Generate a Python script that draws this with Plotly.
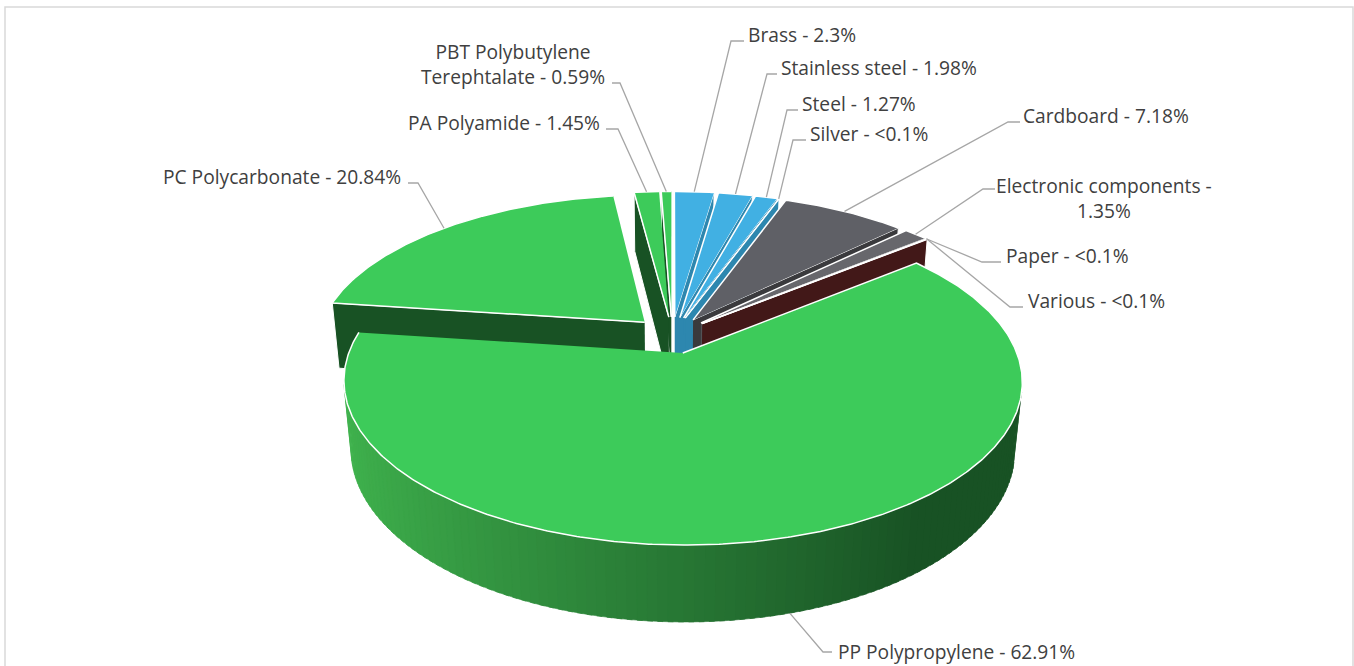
import numpy as np
import plotly.graph_objects as go

# ---------------- data ----------------
materials = ["Brass", "Stainless steel", "Steel", "Silver", "Cardboard",
             "Electronic components", "Paper", "Various", "PP Polypropylene",
             "PC Polycarbonate", "PA Polyamide", "PBT Polybutylene Terephtalate"]
shares = [2.3, 1.98, 1.27, 0.04, 7.18, 1.35, 0.04, 0.05, 62.91, 20.84, 1.45, 0.59]
share_labels = ["2.3%", "1.98%", "1.27%", "<0.1%", "7.18%", "1.35%", "<0.1%",
                "<0.1%", "62.91%", "20.84%", "1.45%", "0.59%"]

# ---------------- styles ----------------
top_colors = ["#41B0E3", "#41B0E3", "#41B0E3", "#41B0E3", "#5F6066", "#67676C",
              "#8A8A8E", "#6A2020", "#3DCB5A", "#3DCB5A", "#3DCB5A", "#3DCB5A"]
wall_colors = ["#2D87AF", "#2D87AF", "#2D87AF", "#2D87AF", "#3A3A3D", "#525256",
               "#5E5E62", "#421818", None, "#185224", "#185224", "#185224"]

# label placement: text x, text y, anchor, leader bend x, bend y, leader end x
label_pos = [
    (747, 34.5, "left", 731, 41, 744),
    (780, 67.5, "left", 767, 74, 777),
    (801, 103.5, "left", 787, 110, 798),
    (809, 133.5, "left", 793, 140, 806),
    (1022, 115.5, "left", 1008, 122, 1020),
    (1104, 198, "center", 983, 189, 995),
    (1005, 255.5, "left", 982, 262, 1001),
    (1027, 300.5, "left", 1010, 307, 1023),
    (837, 651.5, "left", 823, 652, 832),
    (402, 176.5, "right", 418, 183, 408),
    (601, 122.5, "right", 618, 129, 606),
    (513, 63.5, "center", 620, 83, 612),
]

# 3D pie view parameters
CX, CY, S = 672.0, 335.0, 327.5
SIN_E = 0.466
COS_E = float(np.sqrt(1 - SIN_E ** 2))
PERSP = 0.192
DEPTH = 0.236
EXPLODE = 0.12


def proj(X, Y, Z):
    X = np.asarray(X, float); Y = np.asarray(Y, float); Z = np.asarray(Z, float)
    den = 1 + PERSP * (Y * COS_E - Z * SIN_E)
    return CX + S * X / den, CY - S * (Y * SIN_E + Z * COS_E) / den


def pp_shade(a):
    t = (np.sin(np.radians(a)) + 1) / 2
    u = min(t / 0.8, 1.0)
    light = np.array([64, 180, 78]); dark = np.array([24, 82, 36])
    c = light + (dark - light) * u
    return "rgb(%d,%d,%d)" % tuple(int(round(v)) for v in c)


rad = np.radians
cam = np.array([0.0, -COS_E / PERSP, SIN_E / PERSP])
tot = float(sum(shares))
ang = np.cumsum([0.0] + [v / tot * 360 for v in shares])

wall_items, top_items, anchors = [], [], []
for i in range(len(shares)):
    a0, a1 = ang[i], ang[i + 1]
    am = (a0 + a1) / 2
    ox, oy = EXPLODE * np.sin(rad(am)), EXPLODE * np.cos(rad(am))
    # top face
    arc = np.linspace(a0, a1, max(2, int((a1 - a0) / 0.5) + 2))
    tx = np.r_[ox, ox + np.sin(rad(arc))]
    ty = np.r_[oy, oy + np.cos(rad(arc))]
    px, py = proj(tx, ty, np.zeros_like(tx))
    dtop = np.linalg.norm(cam - np.array([ox + 0.5 * np.sin(rad(am)), oy + 0.5 * np.cos(rad(am)), 0]))
    top_items.append((dtop, px, py, top_colors[i]))
    wc = wall_colors[i] or "#185224"
    # radial walls
    for a, n in ((a0, (-np.cos(rad(a0)), np.sin(rad(a0)))), (a1, (np.cos(rad(a1)), -np.sin(rad(a1))))):
        dx, dy = np.sin(rad(a)), np.cos(rad(a))
        P = np.array([ox + dx / 2, oy + dy / 2, -DEPTH / 2])
        if np.dot(cam - P, np.array([n[0], n[1], 0])) > 0:
            qx, qy = proj([ox, ox + dx, ox + dx, ox], [oy, oy + dy, oy + dy, oy], [0, 0, -DEPTH, -DEPTH])
            wall_items.append((np.linalg.norm(cam - P), qx, qy, wc, "white", 1.0))
    # outer wall (thin overlapping bands)
    step = 1.5
    edges = np.linspace(a0, a1, max(2, int((a1 - a0) / step) + 2))
    for b0, b1 in zip(edges[:-1], edges[1:]):
        bm = (b0 + b1) / 2
        n = np.array([np.sin(rad(bm)), np.cos(rad(bm)), 0])
        P = np.array([ox + n[0], oy + n[1], -DEPTH / 2])
        if np.dot(cam - P, n) > 0:
            seg = np.linspace(b0, min(b1 + 0.8, a1), 4)
            sx = ox + np.sin(rad(seg)); sy = oy + np.cos(rad(seg))
            qx, qy = proj(np.r_[sx, sx[::-1]], np.r_[sy, sy[::-1]], np.r_[np.zeros(4), -DEPTH * np.ones(4)])
            col = wall_colors[i] or pp_shade(bm)
            wall_items.append((np.linalg.norm(cam - P), qx, qy, col, col, 0.6))
    # leader anchor
    mx, my = ox + np.sin(rad(am)), oy + np.cos(rad(am))
    z = -DEPTH if np.cos(rad(am)) < -0.5 else 0.0
    lx, ly = proj(mx, my, z)
    anchors.append((float(lx), float(ly)))

fig = go.Figure()
# walls: far to near; outer-wall bands of one slice drawn in angular order
for d, qx, qy, col, lc, lw in sorted(wall_items, key=lambda t: -t[0]):
    fig.add_trace(go.Scatter(x=qx, y=qy, fill="toself", fillcolor=col, mode="lines",
                             line=dict(color=lc, width=lw), hoverinfo="skip", showlegend=False))
for d, px, py, col in sorted(top_items, key=lambda t: -t[0]):
    fig.add_trace(go.Scatter(x=px, y=py, fill="toself", fillcolor=col, mode="lines",
                             line=dict(color="white", width=1.5), hoverinfo="skip", showlegend=False))

# leader lines
lxs, lys = [], []
for (sx, sy), (tx_, ty_, anc, bx, by, ex) in zip(anchors, label_pos):
    lxs += [sx, bx, ex, None]
    lys += [sy, by, by, None]
fig.add_trace(go.Scatter(x=lxs, y=lys, mode="lines", line=dict(color="#A6A6A6", width=1.3),
                         hoverinfo="skip", showlegend=False))

for name, pct, (tx_, ty_, anc, bx, by, ex) in zip(materials, share_labels, label_pos):
    text = f"{name} - {pct}"
    text = text.replace("components - ", "components -<br>").replace("Polybutylene ", "Polybutylene<br>")
    fig.add_annotation(x=tx_, y=ty_, xref="x", yref="y", text=text, showarrow=False,
                       xanchor=anc, yanchor="middle", align="center", borderpad=0,
                       font=dict(family="Open Sans", size=19.2, color="#404040"))

fig.add_shape(type="rect", x0=5, y0=7, x1=1353, y1=690, xref="x", yref="y",
              line=dict(color="#D9D9D9", width=1.5), fillcolor="rgba(0,0,0,0)", layer="below")

fig.update_layout(width=1354, height=666, margin=dict(l=0, r=0, t=0, b=0),
                  paper_bgcolor="white", plot_bgcolor="white",
                  xaxis=dict(range=[0, 1354], visible=False, fixedrange=True),
                  yaxis=dict(range=[666, 0], visible=False, fixedrange=True))
fig.write_html("out.html", config={"displayModeBar": False},
               post_script="document.body.style.margin='0';document.body.style.overflow='hidden';")
